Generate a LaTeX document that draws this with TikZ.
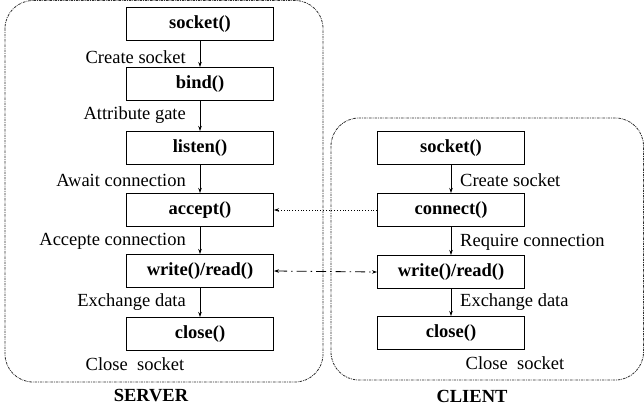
\documentclass[tikz,border=0pt]{standalone}
\usepackage{fontspec}
\setmainfont{Liberation Serif}
\usetikzlibrary{arrows.meta}
\definecolor{ink}{HTML}{000000}
\definecolor{frame}{HTML}{2E2E2E}

\begin{document}
\begin{tikzpicture}[
  x=1pt, y=-1pt,
  every node/.style={font=\fontsize{18.5}{22}\selectfont},
  call/.style={
    rectangle, draw=ink, line width=1pt, fill=white,
    minimum width=147pt, minimum height=33pt, inner sep=2pt,
    font=\fontsize{18.5}{22}\selectfont\bfseries
  },
  side/.style={
    draw=frame, line width=0.8pt, rounded corners=28pt,
    dash pattern=on 2.5pt off 1pt on 0.8pt off 1pt
  },
  step label/.style={inner sep=1pt},
  arr/.style={-{Stealth[length=5pt,width=3.5pt]}, line width=0.8pt, draw=ink},
  linkarr/.style={-{Stealth[length=5pt,width=3.5pt]}, line width=0.8pt, draw=ink, dotted},
  dataarr/.style={{Stealth[length=5pt,width=3.5pt]}-{Stealth[length=5pt,width=3.5pt]}, line width=0.8pt, draw=ink, dash pattern=on 10pt off 4pt on 1.5pt off 4pt}
]
\useasboundingbox (0,0) rectangle (644,412);

% --- containers ---
\draw[side] (5,0.5) rectangle (323,382);
\draw[side] (331,118) rectangle (643.5,380);

% --- SERVER side ---
\node[call] (ssocket) at (200,24) {socket()};
\node[call] (sbind)   at (200,84) {bind()};
\node[call] (slisten) at (200,148) {listen()};
\node[call] (saccept) at (200,210) {accept()};
\node[call] (swrite)  at (200,271) {write()/read()};
\node[call] (sclose)  at (200,334) {close()};

\draw[arr] (ssocket) -- (sbind);
\draw[arr] (sbind) -- (slisten);
\draw[arr] (slisten) -- (saccept);
\draw[arr] (saccept) -- (swrite);
\draw[arr] (swrite) -- (sclose);

\node[step label, anchor=east] (slab1) at (187,57) {Create socket};
\node[step label, anchor=east] (slab2) at (187,115) {Attribute gate};
\node[step label, anchor=east] (slab3) at (187,180) {Await connection};
\node[step label, anchor=east] (slab4) at (187,241) {Accepte connection};
\node[step label, anchor=east] (slab5) at (187,302) {Exchange data};
\node[step label] (slab6) at (135,364) {Close\ \ socket};

\node[font=\fontsize{18.5}{22}\selectfont\bfseries] (server) at (151,396) {SERVER};

% --- CLIENT side ---
\node[call] (csocket)  at (451,148) {socket()};
\node[call] (cconnect) at (451,210) {connect()};
\node[call] (cwrite)   at (451,272) {write()/read()};
\node[call] (cclose)   at (451,333) {close()};

\draw[arr] (csocket) -- (cconnect);
\draw[arr] (cconnect) -- (cwrite);
\draw[arr] (cwrite) -- (cclose);

\node[step label, anchor=west] (clab1) at (459,180) {Create socket};
\node[step label, anchor=west] (clab2) at (459,242) {Require connection};
\node[step label, anchor=west] (clab3) at (459,302) {Exchange data};
\node[step label] (clab4) at (515,363) {Close\ \ socket};

\node[font=\fontsize{18.5}{22}\selectfont\bfseries] (client) at (472,396) {CLIENT};

% --- links between the two sides ---
\draw[linkarr] (cconnect.west) -- (saccept.east);
\draw[dataarr] (swrite.east) -- (cwrite.west);

\end{tikzpicture}
\end{document}
